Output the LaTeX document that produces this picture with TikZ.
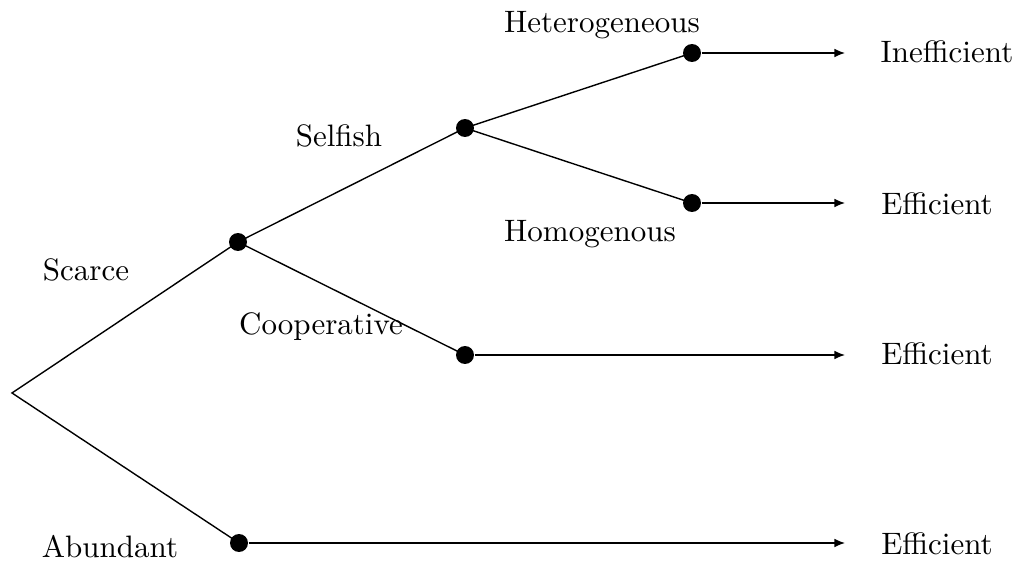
\documentclass[tikz,border=0pt]{standalone}
\usetikzlibrary{arrows.meta}
\begin{document}
\begin{tikzpicture}[x=0.3226pt,y=-0.3226pt,
  dot/.style={circle,fill=black,inner sep=0pt,minimum size=5.8pt},
  lbl/.style={anchor=base,inner sep=0pt},
  edge/.style={line width=0.45pt},
  arr/.style={line width=0.45pt,-{Latex[length=3.4pt,width=2.8pt]}}]
\useasboundingbox (0,0) rectangle (1016,561);
\coordinate (root) at (12,393);
\node[dot] (A) at (238,242) {};
\node[dot] (B) at (239,543) {};
\node[dot] (C) at (465,128) {};
\node[dot] (D) at (465,355) {};
\node[dot] (E) at (692,53) {};
\node[dot] (F) at (692,203) {};
\coordinate (e1) at (845,53);
\coordinate (e2) at (845,203);
\coordinate (e3) at (845,355);
\coordinate (e4) at (845,543);
\draw[edge] (A.center) -- (root) -- (B.center);
\draw[edge] (A.center) -- (C.center);
\draw[edge] (A.center) -- (D.center);
\draw[edge] (C.center) -- (E.center);
\draw[edge] (C.center) -- (F.center);
\draw[arr] (E) -- (e1);
\draw[arr] (F) -- (e2);
\draw[arr] (D) -- (e3);
\draw[arr] (B) -- (e4);
\node[lbl] (lhet) at (602,33) {Heterogeneous};
\node[lbl] (lsel) at (339,147) {Selfish};
\node[lbl] (lhom) at (590,242) {Homogenous};
\node[lbl] (lsca) at (86,281) {Scarce};
\node[lbl] (lcoo) at (321,335) {Cooperative};
\node[lbl] (labu) at (110,558) {Abundant};
\node[lbl] (r1) at (947,63) {Inefficient};
\node[lbl] (r2) at (937,215) {Efficient};
\node[lbl] (r3) at (937,365) {Efficient};
\node[lbl] (r4) at (937,555) {Efficient};
\end{tikzpicture}
\end{document}
